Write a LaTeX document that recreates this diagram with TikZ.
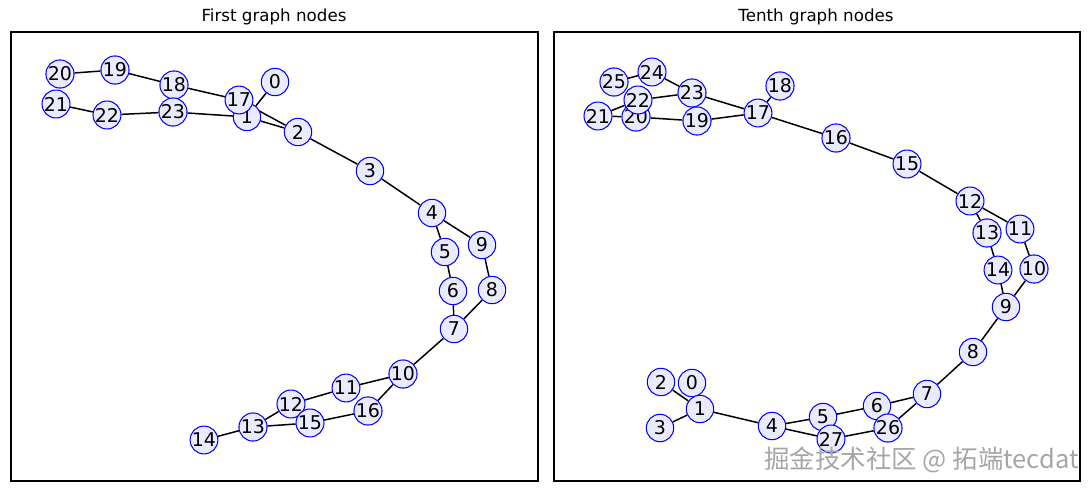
\documentclass[tikz,border=0pt]{standalone}
\usepackage{fontspec}
\setmainfont{DejaVu Sans}
\newfontfamily\cjkfont{Noto Sans CJK SC}
\usepackage{tikz}
\usetikzlibrary{backgrounds}

\begin{document}
\begin{tikzpicture}[x=0.02cm,y=-0.02cm]
\tikzstyle{vtx}=[circle,draw=blue,fill=blue!8!white,line width=0.6pt,inner sep=0pt,minimum size=15.6pt,font=\fontsize{10.8}{12}\selectfont]
\tikzstyle{edge}=[line width=0.85pt,black]
\tikzstyle{panel}=[line width=0.7pt,black]
\tikzstyle{ttl}=[font=\fontsize{9.5}{11}\selectfont]
\useasboundingbox (0,0) rectangle (1090,490);
% frames and titles
\draw[panel] (11,32) rectangle (538,481);
\draw[panel] (554,32) rectangle (1080,481);
\node[ttl] (t1) at (274,17) {First graph nodes};
\node[ttl] (t2) at (816,17) {Tenth graph nodes};
% first graph
\node[vtx] (a20) at (60,74) {20};
\node[vtx] (a21) at (56,104) {21};
\node[vtx] (a19) at (115,70) {19};
\node[vtx] (a22) at (107,115) {22};
\node[vtx] (a18) at (174,85) {18};
\node[vtx] (a23) at (173,112) {23};
\node[vtx] (a0) at (275,82) {0};
\node[vtx] (a1) at (247,117) {1};
\node[vtx] (a17) at (239,100) {17};
\node[vtx] (a2) at (298,132) {2};
\node[vtx] (a3) at (370,171) {3};
\node[vtx] (a4) at (432,213) {4};
\node[vtx] (a5) at (445,252) {5};
\node[vtx] (a9) at (482,245) {9};
\node[vtx] (a6) at (453,291) {6};
\node[vtx] (a8) at (492,290) {8};
\node[vtx] (a7) at (454,329) {7};
\node[vtx] (a10) at (403,374) {10};
\node[vtx] (a11) at (346,388) {11};
\node[vtx] (a16) at (368,411) {16};
\node[vtx] (a12) at (291,404) {12};
\node[vtx] (a15) at (310,423) {15};
\node[vtx] (a13) at (253,427) {13};
\node[vtx] (a14) at (204,440) {14};
% tenth graph
\node[vtx] (b24) at (652,72) {24};
\node[vtx] (b25) at (614,82) {25};
\node[vtx] (b21) at (598,116) {21};
\node[vtx] (b20) at (636,117) {20};
\node[vtx] (b22) at (638,100) {22};
\node[vtx] (b23) at (692,93) {23};
\node[vtx] (b19) at (697,121) {19};
\node[vtx] (b17) at (758,113) {17};
\node[vtx] (b18) at (780,86) {18};
\node[vtx] (b16) at (836,138) {16};
\node[vtx] (b15) at (907,164) {15};
\node[vtx] (b12) at (970,201) {12};
\node[vtx] (b13) at (987,233) {13};
\node[vtx] (b11) at (1020,229) {11};
\node[vtx] (b14) at (998,270) {14};
\node[vtx] (b10) at (1034,269) {10};
\node[vtx] (b9) at (1006,307) {9};
\node[vtx] (b8) at (973,352) {8};
\node[vtx] (b7) at (927,394) {7};
\node[vtx] (b6) at (877,406) {6};
\node[vtx] (b26) at (888,428) {26};
\node[vtx] (b5) at (823,417) {5};
\node[vtx] (b27) at (831,439) {27};
\node[vtx] (b4) at (772,426) {4};
\node[vtx] (b2) at (661,382) {2};
\node[vtx] (b0) at (692,383) {0};
\node[vtx] (b1) at (700,409) {1};
\node[vtx] (b3) at (660,428) {3};
% edges
\begin{scope}[on background layer]
\foreach \u/\v in {0/1,1/2,17/2,18/17,19/18,20/19,21/22,22/23,23/1,2/3,3/4,4/5,4/9,5/6,6/7,9/8,8/7,7/10,10/11,10/16,11/12,16/15,12/13,13/15,13/14}
  \draw[edge] (a\u) -- (a\v);
\foreach \u/\v in {24/25,24/23,22/23,22/21,21/20,20/19,23/17,19/17,17/18,17/16,16/15,15/12,12/13,12/11,13/14,14/9,11/10,10/9,9/8,8/7,7/6,7/26,6/5,26/27,5/4,4/27,4/1,1/2,1/0,1/3}
  \draw[edge] (b\u) -- (b\v);
\end{scope}
% watermark
\node[anchor=west,text=black!35,font=\cjkfont\fontsize{14.5}{16}\selectfont] (wm) at (758,460) {掘金技术社区 @ 拓端tecdat};
\end{tikzpicture}
\end{document}
